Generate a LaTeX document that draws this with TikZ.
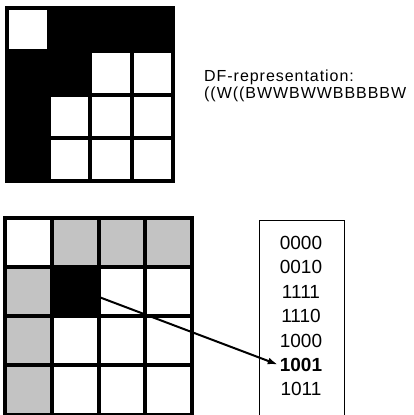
\documentclass[tikz,border=0pt]{standalone}
\usepackage{fontspec}
\setmainfont{Liberation Sans}
\newfontfamily\dffont[LetterSpace=6]{Liberation Sans}
\usetikzlibrary{arrows.meta,calc}
\definecolor{stipple}{RGB}{195,195,195}

\tikzset{
  gridline/.style={line width=4pt, line cap=rect},
  codetext/.style={font=\fontsize{19}{22}\selectfont, inner sep=1pt},
  dftext/.style={font=\dffont\fontsize{16}{19}\selectfont, anchor=base west, inner sep=0pt}
}

\begin{document}
\begin{tikzpicture}[>=Latex, x=1pt, y=-1pt]
\useasboundingbox (0,0) rectangle (414,415);

%==================================================
% Upper 4x4 block image
%==================================================
\foreach \c/\r/\clr in {0/0/white,1/0/black,2/0/black,3/0/black,
                        0/1/black,1/1/black,2/1/white,3/1/white,
                        0/2/black,1/2/white,2/2/white,3/2/white,
                        0/3/black,1/3/white,2/3/white,3/3/white}{
  \fill[\clr] (7+41.5*\c,8+43.25*\r) rectangle ++(41.5,43.25);
}
\foreach \k in {0,...,4}{
  \draw[gridline] (7+41.5*\k,8) -- (7+41.5*\k,181);
  \draw[gridline] (7,8+43.25*\k) -- (173,8+43.25*\k);
}

% Label
\node[dftext] (dfhead) at (204,81) {DF-representation:};
\node[dftext] (dfcode) at (204,98) {((W((BWWBWWBBBBBW};

%==================================================
% Lower 4x4 block image with neighbours
%==================================================
\foreach \c/\r/\clr in {0/0/white,1/0/stipple,2/0/stipple,3/0/stipple,
                        0/1/stipple,1/1/black,2/1/white,3/1/white,
                        0/2/stipple,1/2/white,2/2/white,3/2/white,
                        0/3/stipple,1/3/white,2/3/white,3/3/white}{
  \fill[\clr] (5+46.75*\c,217.5+49.3*\r) rectangle ++(46.75,49.3);
}
\foreach \k in {0,...,4}{
  \draw[gridline] (5+46.75*\k,217.5) -- (5+46.75*\k,415);
  \draw[gridline] (5,217.5+49.3*\k) -- (192,217.5+49.3*\k);
}

% Start point on the black cell
\coordinate (blk) at (99,297);

%==================================================
% Code list
%==================================================
\draw[thin] (259,415) -- (259,220) -- (344,220) -- (344,415);

\foreach \v [count=\i] in {0000,0010,1111,1110,1000,{\bfseries 1001},1011}{
  \node[codetext] (n\i) at (301,218.5+24.4*\i) {\v};
}

% Arrow to the code
\draw[-{Latex[length=10pt,width=7pt]}, line width=2pt, shorten >=1pt] (blk) -- (n6.west);

\end{tikzpicture}
\end{document}
